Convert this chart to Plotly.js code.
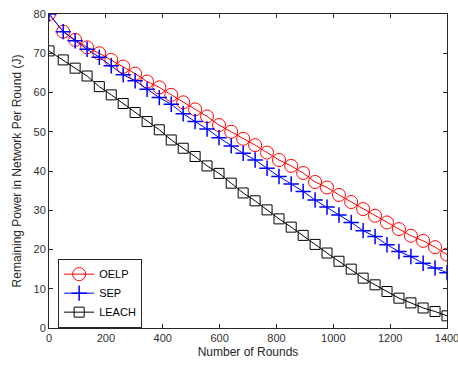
<!DOCTYPE html>
<html><head><meta charset="utf-8">
<script src="https://cdn.plot.ly/plotly-3.0.1.min.js"></script>
<style>html,body{margin:0;padding:0;background:#fff}#chart{width:458px;height:365px}</style>
</head><body><div id="chart"></div>
<script>
const rounds = [0, 50, 92, 134, 177, 219, 261, 303, 345, 388, 430, 472, 514, 556, 598, 641, 683, 725, 767, 809, 852, 894, 936, 978, 1020, 1063, 1105, 1147, 1189, 1231, 1273, 1316, 1358, 1400];
const oelp = [80, 75.5, 73.4, 71.5, 70, 68.3, 66.6, 64.8, 62.8, 61.3, 59.4, 57.5, 55.7, 53.9, 51.7, 50, 48.2, 46.6, 44.7, 42.8, 41.3, 39.5, 37.2, 35.8, 33.9, 32.1, 30.3, 28.6, 26.9, 25.2, 23.5, 22.2, 20.6, 18.7];
const sep = [80, 75.5, 73.2, 71, 69, 66.8, 64.5, 63, 60.8, 58.7, 57, 54.6, 52.6, 50.7, 48.5, 46.4, 44.5, 42.8, 40.7, 38.6, 36.7, 34.8, 32.6, 30.8, 28.8, 26.9, 24.8, 23.3, 21.2, 19.5, 18.2, 16.5, 15.3, 14.1];
const leach = [70.6, 68.3, 66.2, 64.2, 61.5, 59.4, 57.2, 54.9, 52.6, 50.5, 47.9, 45.8, 43.7, 41.3, 39.4, 36.9, 34.4, 32.4, 30.1, 27.8, 25.7, 23.6, 21.3, 19.1, 17, 15, 12.7, 11, 9.3, 7.6, 6.4, 5.1, 4.2, 3.1];
const seriesNames = ['OELP', 'SEP', 'LEACH'];
const xTicks = [0, 200, 400, 600, 800, 1000, 1200, 1400];
const yTicks = [0, 10, 20, 30, 40, 50, 60, 70, 80];

const family = 'Liberation Sans, Arial, sans-serif';
const tickFont = {family: family, size: 11, color: '#303030'};
const titleFont = {family: family, size: 12, color: '#262626'};
const traces = [
  {x: rounds, y: oelp, name: seriesNames[0], mode: 'lines+markers',
   line: {color: '#ff0000', width: 1},
   marker: {symbol: 'circle-open', size: 13, color: '#ff0000', line: {width: 1, color: '#ff0000'}}},
  {x: rounds, y: sep, name: seriesNames[1], mode: 'lines+markers',
   line: {color: '#0000ff', width: 1},
   marker: {symbol: 'cross-thin-open', size: 11, color: '#0000ff', line: {width: 1.5, color: '#0000ff'}}},
  {x: rounds, y: leach, name: seriesNames[2], mode: 'lines+markers',
   line: {color: '#000000', width: 1},
   marker: {symbol: 'square-open', size: 10, color: '#000000', line: {width: 1, color: '#000000'}}}
];
const layout = {
  width: 458, height: 365,
  margin: {l: 49, r: 11, t: 14, b: 37, pad: 0},
  paper_bgcolor: '#fff', plot_bgcolor: '#fff',
  font: titleFont,
  showlegend: true,
  legend: {x: 0.023, y: 0.111, xanchor: 'left', yanchor: 'middle',
    bgcolor: '#fff', bordercolor: '#262626', borderwidth: 1,
    font: {family: family, size: 11, color: '#000'}, tracegroupgap: 0, itemwidth: 30},
  xaxis: {range: [0, 1400], tickvals: xTicks, ticktext: xTicks.map(String),
    ticks: 'inside', ticklen: 4, tickcolor: '#262626', showline: true, linecolor: '#262626', linewidth: 1,
    mirror: 'ticks', showgrid: false, zeroline: false, ticklabeloverflow: 'allow',
    tickfont: tickFont,
    title: {text: 'Number of Rounds', font: titleFont, standoff: 4}},
  yaxis: {range: [0, 80], tickvals: yTicks, ticktext: yTicks.map(String),
    ticks: 'inside', ticklen: 4, tickcolor: '#262626', showline: true, linecolor: '#262626', linewidth: 1,
    mirror: 'ticks', showgrid: false, zeroline: false,
    tickfont: tickFont,
    title: {text: 'Remaining Power in Network Per Round (J)', font: titleFont, standoff: 9}}
};
Plotly.newPlot('chart', traces, layout, {displayModeBar: false, staticPlot: true});
</script></body></html>
